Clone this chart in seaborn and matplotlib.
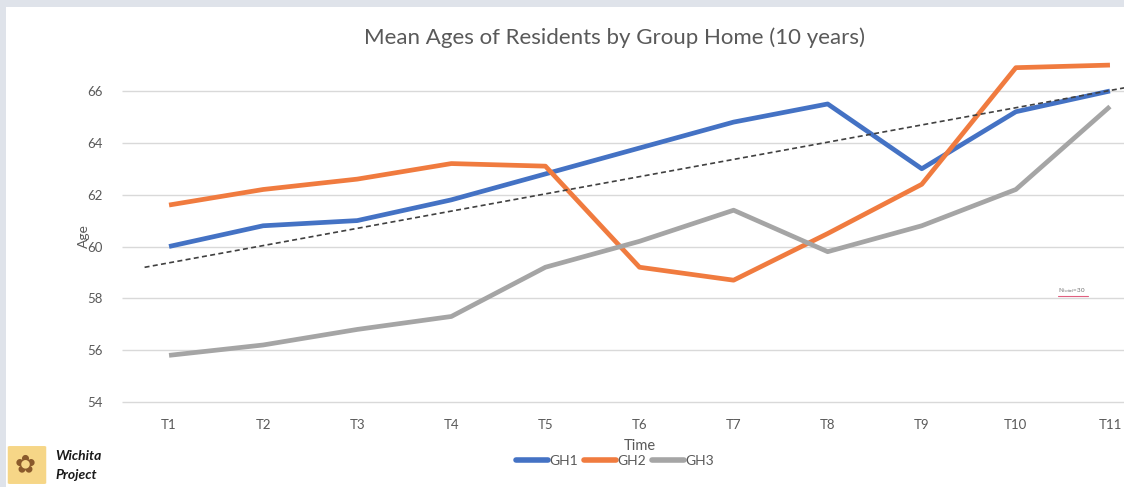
import numpy as np
import pandas as pd
import matplotlib
matplotlib.use("Agg")
import matplotlib.pyplot as plt
from matplotlib.patches import Rectangle, FancyBboxPatch
from matplotlib.lines import Line2D
import seaborn as sns

# Mean resident age per group home at each time point
times = ["T1", "T2", "T3", "T4", "T5", "T6", "T7", "T8", "T9", "T10", "T11"]
gh1 = [60.0, 60.8, 61.0, 61.8, 62.8, 63.8, 64.8, 65.5, 63.0, 65.2, 66.0]
gh2 = [61.6, 62.2, 62.6, 63.2, 63.1, 59.2, 58.7, 60.5, 62.4, 66.9, 67.0]
gh3 = [55.8, 56.2, 56.8, 57.3, 59.2, 60.2, 61.4, 59.8, 60.8, 62.2, 65.4]
groups = ["GH1", "GH2", "GH3"]
# Linear trend line value at the first and last time point
trend_ends = [59.37, 66.02]
y_ticks = [54, 56, 58, 60, 62, 64, 66]

colors = {"GH1": "#4472C4", "GH2": "#F07B3F", "GH3": "#A5A5A5"}
text_col = "#595959"

sns.set_theme(style="white")
plt.rcParams["font.family"] = ["Lato", "DejaVu Sans"]

df = pd.DataFrame({
    "t": np.tile(np.arange(len(times)), 3),
    "Age": gh1 + gh2 + gh3,
    "group": np.repeat(groups, len(times)),
})

fig = plt.figure(figsize=(11.24, 4.87), dpi=100, facecolor="#dfe3ea")
# white chart area inside the grey frame
fig.patches.append(Rectangle((6 / 1124, 0), 1, 1 - 7 / 487, transform=fig.transFigure,
                             facecolor="white", edgecolor="none", zorder=-5))

ax = fig.add_axes([122 / 1124, 85 / 487, 1035 / 1124, 311 / 487])
ax.set_facecolor("none")

for v in y_ticks:
    ax.axhline(v, color="#d9d9d9", lw=1.0, zorder=0)

sns.lineplot(data=df, x="t", y="Age", hue="group", palette=colors, sort=False,
             linewidth=3.4, ax=ax, legend=False, zorder=3)
for ln in ax.lines:
    ln.set_clip_on(False)
    ln.set_solid_capstyle("butt")

# dashed linear trend, extended slightly past both ends
n = len(times) - 1
slope = (trend_ends[1] - trend_ends[0]) / n
tx = np.array([-0.26, 10.6])
ax.plot(tx, trend_ends[0] + slope * tx, ls=(0, (3, 2)), color="#404040", lw=1.2,
        zorder=4, clip_on=False)

ax.set_xlim(-0.5, 10.5)
ax.set_ylim(54, 66)
ax.set_xticks(range(len(times)))
ax.set_xticklabels(times)
ax.set_yticks(y_ticks)
ax.tick_params(axis="both", length=0, labelsize=9.5, colors=text_col)
ax.tick_params(axis="x", pad=12)
ax.tick_params(axis="y", pad=14)
for s in ax.spines.values():
    s.set_visible(False)
ax.set_xlabel("")
ax.set_ylabel("")

fig.text(614 / 1124, 1 - 38 / 487, "Mean Ages of Residents by Group Home (10 years)",
         ha="center", va="center", fontsize=16, color=text_col)
fig.text(84 / 1124, 1 - 236 / 487, "Age", rotation=90, ha="center", va="center",
         fontsize=10, color=text_col)
fig.text(640 / 1124, 1 - 446 / 487, "Time", ha="center", va="center",
         fontsize=10.5, color=text_col)

# small sample-size note
fig.text(1058 / 1124, 1 - 291 / 487, r"N$_{total}$=30", ha="left", va="center",
         fontsize=4.5, color="#707070")
fig.add_artist(Line2D([1058 / 1124, 1088 / 1124], [1 - 296 / 487] * 2,
                      transform=fig.transFigure, color="#e06080", lw=0.8))

handles = [Line2D([0], [0], color=colors[g], lw=4, solid_capstyle="round") for g in groups]
fig.legend(handles, groups, loc="center", bbox_to_anchor=(615 / 1124, 1 - 461 / 487),
           ncol=3, frameon=False, fontsize=10, handlelength=2.3, handletextpad=0.1,
           columnspacing=0.4, labelcolor=text_col)

# logo badge
fig.patches.append(FancyBboxPatch((10 / 1124, 4 / 487), 34 / 1124, 36 / 487,
                                  boxstyle="round,pad=0.002", transform=fig.transFigure,
                                  facecolor="#f5d27a", edgecolor="none", alpha=0.9))
fig.text(25 / 1124, 1 - 465 / 487, "✿", ha="center", va="center", fontsize=18,
         color="#8a5a2b", family=["DejaVu Sans"])
fig.text(55 / 1124, 1 - 456 / 487, "Wichita", ha="left", va="center", fontsize=10,
         fontweight="bold", style="italic", color="#1a1a1a")
fig.text(55 / 1124, 1 - 475 / 487, "Project", ha="left", va="center", fontsize=10,
         fontweight="bold", style="italic", color="#1a1a1a")

fig.savefig("out.png", dpi=100, facecolor=fig.get_facecolor())
